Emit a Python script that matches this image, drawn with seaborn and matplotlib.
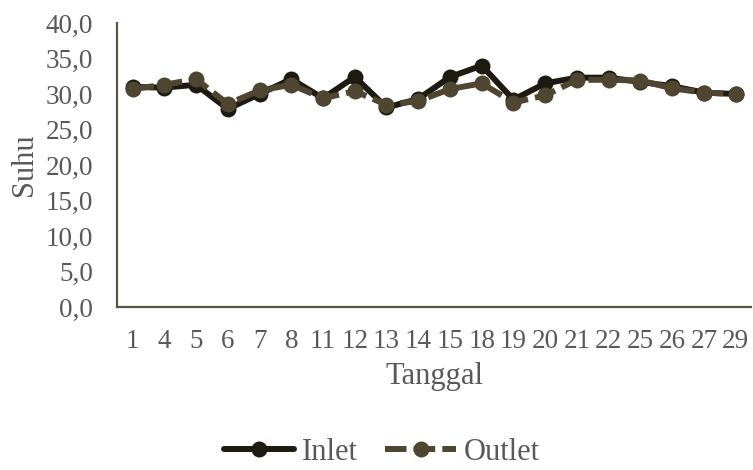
import numpy as np
import pandas as pd
import matplotlib
matplotlib.use("Agg")
import matplotlib.pyplot as plt
import seaborn as sns

# Data
tanggal = ["1", "4", "5", "6", "7", "8", "11", "12", "13", "14",
           "15", "18", "19", "20", "21", "22", "25", "26", "27", "29"]
inlet = [31.0, 30.9, 31.3, 27.9, 30.0, 32.1, 29.4, 32.4, 28.1, 29.3,
         32.4, 34.0, 29.2, 31.5, 32.3, 32.3, 31.7, 31.1, 30.2, 30.0]
outlet = [30.7, 31.3, 32.1, 28.6, 30.5, 31.3, 29.4, 30.4, 28.5, 29.0,
          30.7, 31.5, 28.8, 29.8, 32.0, 32.0, 31.9, 30.8, 30.2, 30.0]
yticks = np.arange(0, 45, 5)

inlet_color = "#1d1b11"
outlet_color = "#4e4630"
axis_color = "#5c5640"
text_color = "#595959"

sns.set_style("white")
plt.rcParams["font.family"] = ["Liberation Serif", "DejaVu Serif"]

fig = plt.figure(figsize=(7.53, 4.70), dpi=100)
ax = fig.add_axes([0.155, 0.347, 0.843, 0.604])

sns.lineplot(x=tanggal, y=inlet, sort=False, ax=ax, color=inlet_color,
             linewidth=4.3, marker="o", markersize=11.5, markeredgewidth=0,
             label="Inlet")
sns.lineplot(x=tanggal, y=outlet, sort=False, ax=ax, color=outlet_color,
             linewidth=4.3, marker="o", markersize=11.5, markeredgewidth=0,
             label="Outlet")
ax.lines[-1].set_linestyle((0, (3.6, 1.2)))

ax.set_xlim(-0.5, len(tanggal) - 0.5)
ax.set_ylim(0, 40)
ax.set_yticks(yticks)
ax.set_yticklabels([f"{v:.1f}".replace(".", ",") for v in yticks])

# tick marks between categories, labels at category centres
ax.set_xticks(np.arange(-0.5, len(tanggal), 1))
ax.set_xticklabels([])
ax.set_xticks(np.arange(len(tanggal)), minor=True)
ax.set_xticklabels(tanggal, minor=True)
ax.tick_params(axis="x", which="minor", length=0, pad=16)
ax.tick_params(axis="x", which="major", length=7, width=1.3, color=axis_color)
ax.tick_params(axis="y", length=7, width=1.3, color=axis_color, pad=10)
ax.tick_params(axis="both", which="both", labelsize=19.5, labelcolor=text_color)

for s in ["top", "right"]:
    ax.spines[s].set_visible(False)
for s in ["left", "bottom"]:
    ax.spines[s].set_color(axis_color)
    ax.spines[s].set_linewidth(1.6)

ax.set_xlabel("Tanggal", fontsize=22, color=text_color, labelpad=6)
ax.set_ylabel("Suhu", fontsize=22, color=text_color, labelpad=5)

handles, labels = ax.get_legend_handles_labels()
ax.legend(handles, labels, loc="center", bbox_to_anchor=(0.507, 0.037),
          bbox_transform=fig.transFigure, ncol=2, frameon=False,
          fontsize=22, labelcolor=text_color, handlelength=2.3,
          columnspacing=0.9, handletextpad=0.25, borderpad=0)

fig.savefig("out.png", dpi=100)
